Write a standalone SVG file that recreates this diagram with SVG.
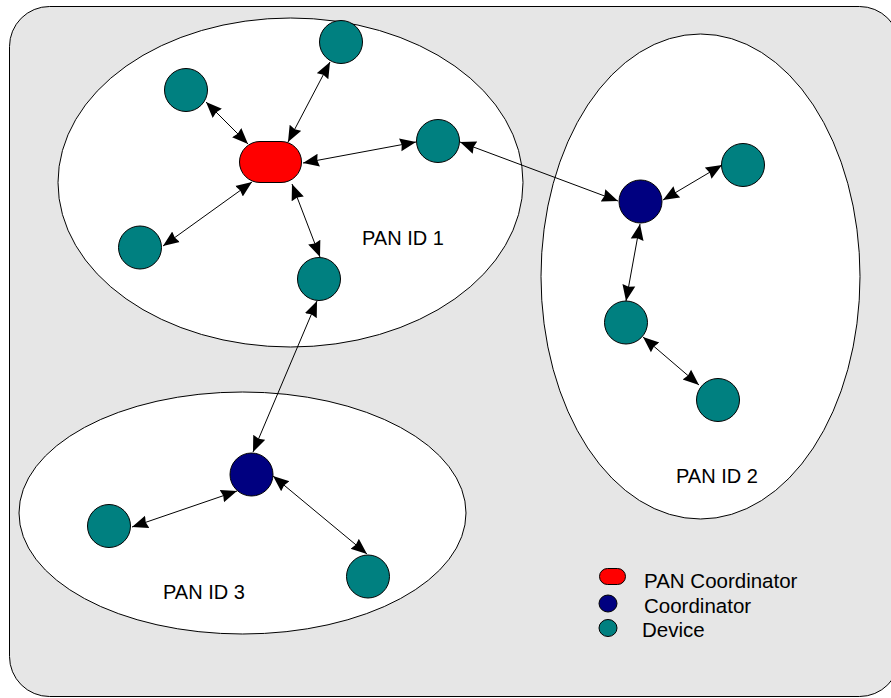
<svg xmlns="http://www.w3.org/2000/svg" width="891" height="698" viewBox="0 0 891 698">
<style>
.bg{fill:#e6e6e6;stroke:#000;stroke-width:1}
.pan{fill:#fff;stroke:#000;stroke-width:1}
.dev{fill:#008080;stroke:#000;stroke-width:1}
.crd{fill:#000080;stroke:#000;stroke-width:1}
.pc{fill:#ff0000;stroke:#000;stroke-width:1}
.lnk{stroke:#000;stroke-width:1;fill:none;marker-start:url(#ah);marker-end:url(#ah)}
text{font-family:"Liberation Sans",Arial,sans-serif;font-size:20px;fill:#000}
.lg{font-size:20.5px}
</style>
<defs>
<marker id="ah" markerWidth="18" markerHeight="16" refX="16" refY="7" orient="auto-start-reverse" markerUnits="userSpaceOnUse">
<path d="M0,0.5 L16,7 L0,13.5 L1.5,7 z" fill="#000"/>
</marker>
</defs>
<rect class="bg" x="9.5" y="6.5" width="890" height="690" rx="40" ry="40"/>
<g id="pan1"><ellipse class="pan" cx="290.5" cy="182.5" rx="232.5" ry="164.5"/><text x="362" y="245">PAN ID 1</text></g>
<g id="pan2"><ellipse class="pan" cx="700.5" cy="276.5" rx="159.5" ry="242.5"/><text x="676" y="483">PAN ID 2</text></g>
<g id="pan3"><ellipse class="pan" cx="242.5" cy="513" rx="223.5" ry="121"/><text x="163" y="599">PAN ID 3</text></g>
<g id="connectors">
<line class="lnk" x1="330" y1="62" x2="288" y2="142"/>
<line class="lnk" x1="206" y1="102" x2="248" y2="144"/>
<line class="lnk" x1="303" y1="163" x2="416" y2="142"/>
<line class="lnk" x1="252" y1="182" x2="163" y2="246"/>
<line class="lnk" x1="292" y1="184" x2="320" y2="257"/>
<line class="lnk" x1="460" y1="142" x2="618" y2="201"/>
<line class="lnk" x1="663" y1="200" x2="722" y2="165"/>
<line class="lnk" x1="640" y1="224" x2="626" y2="301"/>
<line class="lnk" x1="643" y1="337" x2="699" y2="385"/>
<line class="lnk" x1="317" y1="301" x2="253" y2="452"/>
<line class="lnk" x1="237" y1="491" x2="132" y2="527"/>
<line class="lnk" x1="273" y1="476" x2="367" y2="554"/>
</g>
<g id="pan-coordinator"><rect class="pc" x="239.5" y="141.5" width="62" height="41" rx="20.5" ry="20.5"/></g>
<g id="dev-a"><circle class="dev" cx="341" cy="42" r="21.5"/></g>
<g id="dev-b"><circle class="dev" cx="186" cy="90" r="21.5"/></g>
<g id="dev-c"><circle class="dev" cx="438" cy="141" r="21.5"/></g>
<g id="dev-d"><circle class="dev" cx="140" cy="247.5" r="21.5"/></g>
<g id="dev-e"><circle class="dev" cx="319" cy="279" r="21.5"/></g>
<g id="coord-f"><circle class="crd" cx="640.5" cy="201.5" r="21.5"/></g>
<g id="dev-g"><circle class="dev" cx="743" cy="165" r="21.5"/></g>
<g id="dev-h"><circle class="dev" cx="626" cy="322.5" r="21.5"/></g>
<g id="dev-i"><circle class="dev" cx="718" cy="400" r="21.5"/></g>
<g id="coord-j"><circle class="crd" cx="251.5" cy="474.5" r="21.5"/></g>
<g id="dev-k"><circle class="dev" cx="109" cy="526" r="21.5"/></g>
<g id="dev-l"><circle class="dev" cx="368" cy="576.5" r="21.5"/></g>
<g id="legend">
<rect class="pc" x="599.5" y="568.5" width="26" height="16" rx="8" ry="8"/>
<text class="lg" x="644" y="588">PAN Coordinator</text>
<ellipse class="crd" cx="608" cy="603.5" rx="9" ry="8.5"/>
<text class="lg" x="644" y="613">Coordinator</text>
<ellipse class="dev" cx="608" cy="628" rx="9" ry="8.5"/>
<text class="lg" x="642" y="637">Device</text>
</g>
</svg>
